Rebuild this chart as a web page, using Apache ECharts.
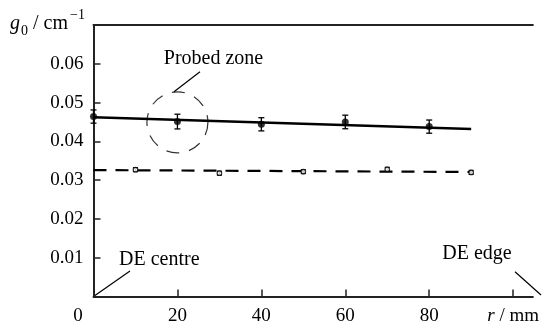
<!DOCTYPE html>
<html><head><meta charset="utf-8">
<script src="https://cdn.jsdelivr.net/npm/echarts@6/dist/echarts.min.js"></script>
<style>html,body{margin:0;padding:0;background:#fff}#c{width:542px;height:329px}</style>
</head><body><div id="c"></div>
<script>
// ---- data ----
const xTickValues = [0, 20, 40, 60, 80, 100];
const yTickValues = [0.01, 0.02, 0.03, 0.04, 0.05, 0.06];
const rSolid = [0, 20, 40, 60, 80];
const gSolid = [0.0464, 0.0451, 0.0444, 0.0450, 0.0438];
const eSolid = [0.0017, 0.0019, 0.0017, 0.00175, 0.0017];
const rOpen = [10, 30, 50, 70, 90];
const gOpen = [0.0327, 0.0318, 0.0322, 0.0328, 0.0320];
const eOpen = [0.0005, 0.0005, 0.0005, 0.0005, 0.0005];
const fitSolidR = [0, 90];
const fitSolidG = [0.0462, 0.0432];
const fitDashedR = [0, 90];
const fitDashedG = [0.0326, 0.0321];
const probedZone = [20, 0.0449];

const FONT = 'Liberation Serif';
const INK = '#000';
const AX = '#222';

const solidPts = rSolid.map((r, i) => [r, gSolid[i]]);
const solidErr = rSolid.map((r, i) => [r, gSolid[i], eSolid[i]]);
const openPts = rOpen.map((r, i) => [r, gOpen[i]]);
const openErr = rOpen.map((r, i) => [r, gOpen[i], eOpen[i]]);

function errRender(cap) {
  return function (params, api) {
    const x = api.value(0), y = api.value(1), e = api.value(2);
    const top = api.coord([x, y + e]);
    const bot = api.coord([x, y - e]);
    const st = { stroke: INK, lineWidth: 1.3 };
    return {
      type: 'group',
      children: [
        { type: 'line', shape: { x1: top[0], y1: top[1], x2: bot[0], y2: bot[1] }, style: st },
        { type: 'line', shape: { x1: top[0] - cap, y1: top[1], x2: top[0] + cap, y2: top[1] }, style: st },
        { type: 'line', shape: { x1: bot[0] - cap, y1: bot[1], x2: bot[0] + cap, y2: bot[1] }, style: st }
      ]
    };
  };
}

const chart = echarts.init(document.getElementById('c'), null, { renderer: 'canvas' });
const option = {
  animation: false,
  backgroundColor: '#fff',
  grid: { left: 93.5, right: 0, top: 25, bottom: 32.5, containLabel: false },
  xAxis: [{
    type: 'value', min: 0, max: 104.7, interval: 20,
    axisLine: { lineStyle: { color: AX, width: 2 } },
    axisTick: { inside: true, length: 7, lineStyle: { color: AX, width: 1.5 }, customValues: xTickValues },
    splitLine: { show: false },
    axisLabel: {
      customValues: xTickValues,
      color: INK, fontFamily: FONT, fontSize: 19, margin: 10,
      formatter: function (v) {
        if (v === 0) return '{o|0}';
        if (v === 100) return '{i|r}{n| / mm}';
        return String(v);
      },
      rich: {
        o: { fontFamily: FONT, fontSize: 19, color: INK, padding: [0, 31, 0, 0] },
        i: { fontFamily: FONT, fontSize: 19, color: INK, fontStyle: 'italic' },
        n: { fontFamily: FONT, fontSize: 19, color: INK }
      }
    }
  }, {
    type: 'value', position: 'top', min: 0, max: 104.7,
    axisLine: { show: true, lineStyle: { color: AX, width: 2 } },
    axisTick: { show: false }, axisLabel: { show: false }, splitLine: { show: false }
  }],
  yAxis: {
    type: 'value', min: 0, max: 0.07, interval: 0.01,
    axisLine: { show: true, lineStyle: { color: AX, width: 2 } },
    axisTick: { show: true, inside: true, length: 7, lineStyle: { color: AX, width: 1.5 }, customValues: yTickValues },
    splitLine: { show: false },
    axisLabel: {
      customValues: yTickValues,
      color: INK, fontFamily: FONT, fontSize: 19, margin: 10,
      formatter: v => v.toFixed(2)
    }
  },
  series: [
    { type: 'line', data: fitSolidR.map((r, i) => [r, fitSolidG[i]]), symbol: 'none',
      lineStyle: { color: INK, width: 2.6 }, z: 3 },
    { type: 'line', data: fitDashedR.map((r, i) => [r, fitDashedG[i]]), symbol: 'none',
      lineStyle: { color: INK, width: 2.2, type: [13, 9] }, z: 3 },
    { type: 'custom', data: solidErr, renderItem: errRender(3), z: 4 },
    { type: 'custom', data: openErr, renderItem: errRender(2.5), z: 4 },
    { type: 'scatter', data: solidPts, symbol: 'circle', symbolSize: 7,
      itemStyle: { color: INK }, z: 5 },
    { type: 'scatter', data: openPts, symbol: 'circle', symbolSize: 4.5,
      itemStyle: { color: '#fff', borderColor: INK, borderWidth: 1.2 }, z: 5 },
    { type: 'scatter', data: [probedZone], symbol: 'circle', symbolSize: 61,
      itemStyle: { color: 'rgba(0,0,0,0)', borderColor: INK, borderWidth: 1.2, borderType: [13, 10] }, z: 2, silent: true }
  ],
  graphic: [
    { type: 'text', left: 10, top: 8, style: {
      text: '{i|g}{s|0}{n| / cm}{p|−1}',
      rich: {
        i: { fontFamily: FONT, fontSize: 20, fontStyle: 'italic', fill: INK, lineHeight: 26, verticalAlign: 'bottom' },
        s: { fontFamily: FONT, fontSize: 14, fill: INK, lineHeight: 26, verticalAlign: 'bottom', padding: [0, 0, -4, 1] },
        n: { fontFamily: FONT, fontSize: 20, fill: INK, lineHeight: 26, verticalAlign: 'bottom' },
        p: { fontFamily: FONT, fontSize: 14, fill: INK, lineHeight: 26, verticalAlign: 'top', padding: [0, 0, 0, 2] }
      } } },
    { type: 'text', x: 213.5, y: 59, style: { text: 'Probed zone', font: '20px "Liberation Serif"', fill: INK, textAlign: 'center', textVerticalAlign: 'middle' } },
    { type: 'text', x: 119, y: 260, style: { text: 'DE centre', font: '20px "Liberation Serif"', fill: INK, textAlign: 'left', textVerticalAlign: 'middle' } },
    { type: 'text', x: 477, y: 254, style: { text: 'DE edge', font: '20px "Liberation Serif"', fill: INK, textAlign: 'center', textVerticalAlign: 'middle' } },
    { type: 'line', shape: { x1: 200, y1: 71.7, x2: 174, y2: 91.7 }, style: { stroke: INK, lineWidth: 1.2 } },
    { type: 'line', shape: { x1: 93.5, y1: 296.5, x2: 130, y2: 271 }, style: { stroke: INK, lineWidth: 1.2 } },
    { type: 'line', shape: { x1: 515, y1: 271.7, x2: 541, y2: 295 }, style: { stroke: INK, lineWidth: 1.2 } }
  ]
};
chart.setOption(option);
</script>
</body></html>
